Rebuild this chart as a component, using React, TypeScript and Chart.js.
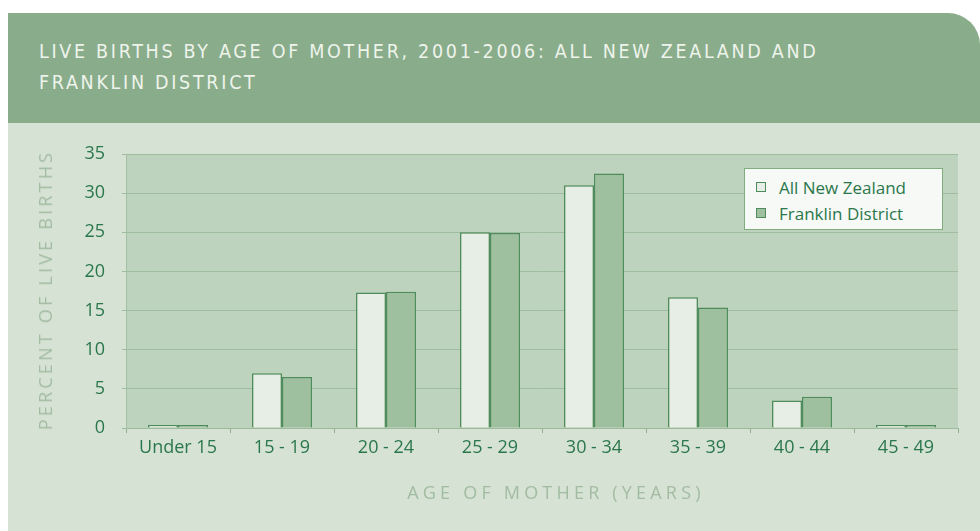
import React, { useEffect, useRef } from "react";
import { Chart, registerables } from "chart.js";

Chart.register(...registerables);

const categories = ["Under 15", "15 - 19", "20 - 24", "25 - 29", "30 - 34", "35 - 39", "40 - 44", "45 - 49"];
const allNewZealand = [0.2, 7.0, 17.3, 25.0, 31.0, 16.7, 3.5, 0.2];
const franklinDistrict = [0.2, 6.5, 17.4, 24.9, 32.5, 15.4, 4.0, 0.2];
const seriesNames = ["All New Zealand", "Franklin District"];
const titleLines = ["LIVE BIRTHS BY AGE OF MOTHER, 2001-2006: ALL NEW ZEALAND AND", "FRANKLIN DISTRICT"];
const yAxisTitle = "PERCENT OF LIVE BIRTHS";
const xAxisTitle = "AGE OF MOTHER (YEARS)";

const DARK = "#2b774c";
const NZ_FILL = "#e7eee5";
const FR_FILL = "#9fc09f";
const BAR_BORDER = "#4f8c5b";
const PLOT_BG = "#bed3bd";
const PANEL_BG = "#d6e2d4";
const HEADER_BG = "#89ad8a";
const AXIS_TITLE = "#a2bca2";

const plotBg = {
  id: "plotBg",
  beforeDraw(chart: any) {
    const { ctx, chartArea } = chart;
    ctx.save();
    ctx.fillStyle = PLOT_BG;
    ctx.fillRect(chartArea.left, chartArea.top, chartArea.right - chartArea.left, chartArea.bottom - chartArea.top);
    ctx.restore();
  },
};

export default function App() {
  const ref = useRef<HTMLCanvasElement | null>(null);
  useEffect(() => {
    if (!ref.current) return;
    const chart = new Chart(ref.current, {
      type: "bar",
      data: {
        labels: categories,
        datasets: [
          {
            label: seriesNames[0],
            data: allNewZealand,
            backgroundColor: NZ_FILL,
            borderColor: BAR_BORDER,
            borderWidth: 1.5,
            minBarLength: 3,
            categoryPercentage: 0.577,
            barPercentage: 1,
          },
          {
            label: seriesNames[1],
            data: franklinDistrict,
            backgroundColor: FR_FILL,
            borderColor: BAR_BORDER,
            borderWidth: 1.5,
            minBarLength: 3,
            categoryPercentage: 0.577,
            barPercentage: 1,
          },
        ],
      },
      options: {
        animation: false,
        responsive: false,
        maintainAspectRatio: false,
        layout: { padding: { left: 60, right: 22, top: 154, bottom: 63 } },
        plugins: { legend: { display: false }, tooltip: { enabled: false }, title: { display: false } },
        scales: {
          x: {
            afterFit: (s: any) => { s.height = 40; },
            grid: { display: true, drawOnChartArea: false, offset: true, tickLength: 5, color: "#8fae8f", lineWidth: 1 },
            border: { display: true, color: "#9dba9c", width: 1 },
            ticks: { color: DARK, font: { family: "Open Sans", size: 18 }, padding: 4, maxRotation: 0, autoSkip: false },
          },
          y: {
            min: 0,
            max: 35,
            afterFit: (s: any) => { s.width = 66; },
            grid: { color: "#a0bc9f", lineWidth: 1, tickLength: 4, drawTicks: true },
            border: { display: true, color: "#a5c0a4", width: 1 },
            ticks: { stepSize: 5, color: DARK, font: { family: "Open Sans", size: 18 }, padding: 17 },
          },
        },
      },
      plugins: [plotBg],
    });
    return () => chart.destroy();
  }, []);

  return (
    <div style={{ position: "absolute", left: 0, top: 0, width: 980, height: 531, background: "#ffffff", overflow: "hidden" }}>
      <div style={{ position: "absolute", left: 8, top: 13, width: 972, height: 110, background: HEADER_BG, borderTopRightRadius: 32 }} />
      <div style={{ position: "absolute", left: 8, top: 123, width: 972, height: 408, background: PANEL_BG }} />
      <div
        style={{
          position: "absolute",
          left: 39,
          top: 36,
          fontFamily: "'DejaVu Sans Condensed', 'DejaVu Sans', sans-serif",
          fontSize: 19.5,
          letterSpacing: "2.7px",
          lineHeight: "31px",
          color: "#eef3ec",
          whiteSpace: "nowrap",
        }}
      >
        {titleLines.map((l, i) => (
          <div key={i}>{l}</div>
        ))}
      </div>
      <canvas ref={ref} width={980} height={531} style={{ position: "absolute", left: 0, top: 0 }} />
      <div
        style={{
          position: "absolute",
          left: 45,
          top: 290,
          transform: "translate(-50%, -50%) rotate(-90deg)",
          fontFamily: "'Open Sans', sans-serif",
          fontSize: 18,
          letterSpacing: "3.2px",
          color: AXIS_TITLE,
          whiteSpace: "nowrap",
        }}
      >
        {yAxisTitle}
      </div>
      <div
        style={{
          position: "absolute",
          left: 556,
          top: 492,
          transform: "translate(-50%, -50%)",
          fontFamily: "'Open Sans', sans-serif",
          fontSize: 18,
          letterSpacing: "4.2px",
          color: AXIS_TITLE,
          whiteSpace: "nowrap",
        }}
      >
        {xAxisTitle}
      </div>
      <div
        style={{
          position: "absolute",
          left: 744,
          top: 168,
          width: 197,
          height: 60,
          background: "#f6f9f5",
          border: "1px solid #7fad80",
          fontFamily: "'Open Sans', sans-serif",
          fontSize: 17,
          color: DARK,
        }}
      >
        {seriesNames.map((n, i) => (
          <div key={i} style={{ position: "absolute", left: 11, top: 6 + i * 26, height: 24, display: "flex", alignItems: "center", whiteSpace: "nowrap" }}>
            <span
              style={{
                display: "inline-block",
                width: 8,
                height: 8,
                background: i === 0 ? NZ_FILL : FR_FILL,
                border: `1px solid ${BAR_BORDER}`,
                marginRight: 13,
              }}
            />
            {n}
          </div>
        ))}
      </div>
    </div>
  );
}
